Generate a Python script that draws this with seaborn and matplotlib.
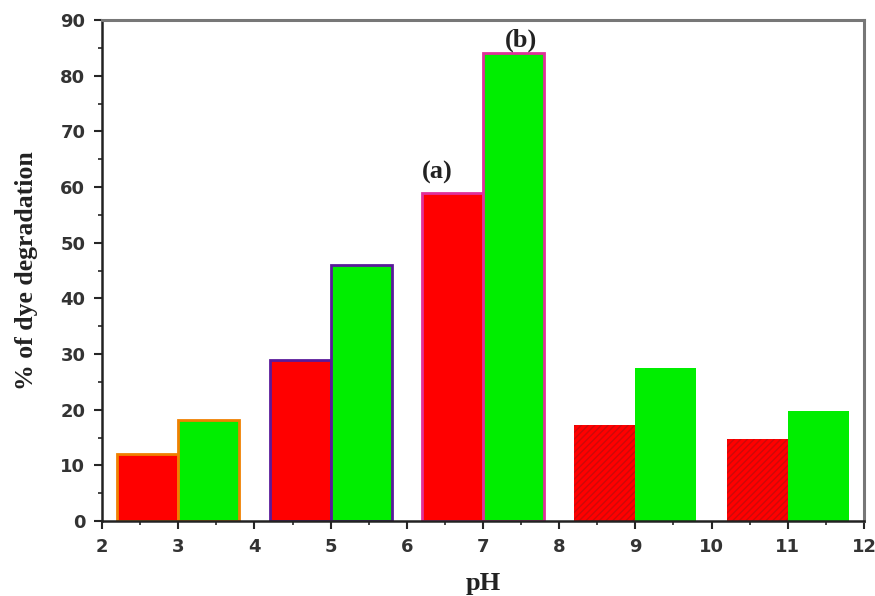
import matplotlib
matplotlib.use('Agg')
import matplotlib.pyplot as plt
import pandas as pd
import seaborn as sns
from matplotlib.ticker import MultipleLocator

ph = [3, 5, 7, 9, 11]
sample_a = [12, 29, 59, 17.3, 14.8]
sample_b = [18.1, 46, 84, 27.5, 19.7]
edge_cols = ['#f08000', '#5a1a9a', '#e0309a', 'none', 'none']

df = pd.DataFrame({
    'pH': ph * 2,
    'deg': sample_a + sample_b,
    'sample': ['a'] * len(ph) + ['b'] * len(ph),
})

sns.set_style('ticks')
plt.rcParams['hatch.linewidth'] = 1.0
fig = plt.figure(figsize=(8.75, 5.96), dpi=100)
ax = fig.add_axes([0.1166, 0.1258, 0.8708, 0.8406])

sns.barplot(data=df, x='pH', y='deg', hue='sample', native_scale=True,
            palette=['#ff0000', '#00ee00'], width=0.8, saturation=1,
            legend=False, ax=ax)

n = len(ph)
for i, p in enumerate(ax.patches[:2 * n]):
    k = i % n
    if edge_cols[k] == 'none':
        if i < n:
            p.set_hatch('/////')
            p.set_edgecolor('#cc0a0a')
            p.set_linewidth(0)
        else:
            p.set_edgecolor('none')
    else:
        p.set_edgecolor(edge_cols[k])
        p.set_linewidth(2)

ax.set_xlim(2, 12)
ax.set_ylim(0, 90)
ax.xaxis.set_major_locator(MultipleLocator(1))
ax.xaxis.set_minor_locator(MultipleLocator(0.5))
ax.yaxis.set_major_locator(MultipleLocator(10))
ax.yaxis.set_minor_locator(MultipleLocator(5))
ax.tick_params(which='major', length=6, width=1.5, labelsize=13, pad=6)
ax.tick_params(which='minor', length=3, width=1.2)
for lab in ax.get_xticklabels() + ax.get_yticklabels():
    lab.set_fontweight('bold')
    lab.set_family('DejaVu Sans')
    lab.set_color('#333333')

for s in ['left', 'bottom']:
    ax.spines[s].set_linewidth(1.8)
    ax.spines[s].set_color('#222222')
for s in ['top', 'right']:
    ax.spines[s].set_linewidth(2.2)
    ax.spines[s].set_color('#777777')

ax.text(6.4, 62.7, '(a)', ha='center', va='center', fontsize=19,
        fontweight='bold', family='Liberation Serif', color='#222222')
ax.text(7.5, 86.4, '(b)', ha='center', va='center', fontsize=19,
        fontweight='bold', family='Liberation Serif', color='#222222')

ax.set_xlabel('pH', fontsize=19, fontweight='bold', family='Liberation Serif',
              labelpad=12, color='#222222')
ax.set_ylabel('% of dye degradation', fontsize=18.5, fontweight='bold',
              family='Liberation Serif', labelpad=16, color='#222222')

fig.savefig('out.png', dpi=100)
